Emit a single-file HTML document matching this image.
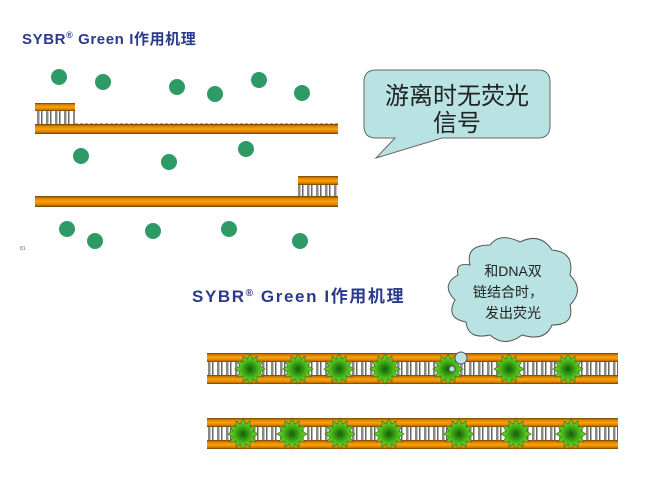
<!DOCTYPE html>
<html><head><meta charset="utf-8"><style>body{margin:0;background:#fff}svg{display:block}</style></head><body>
<svg width="660" height="480" viewBox="0 0 660 480" xmlns="http://www.w3.org/2000/svg">
<defs>
<linearGradient id="og" x1="0" y1="0" x2="0" y2="1">
<stop offset="0" stop-color="#6b3f00"/><stop offset="0.2" stop-color="#d87f00"/><stop offset="0.5" stop-color="#ffa200"/><stop offset="0.8" stop-color="#d87f00"/><stop offset="1" stop-color="#6b3f00"/></linearGradient>
<radialGradient id="sg"><stop offset="0" stop-color="#125e08"/><stop offset="0.6" stop-color="#4cbd1a"/><stop offset="1" stop-color="#7fe020"/></radialGradient>
<pattern id="lad" width="9" height="20" patternUnits="userSpaceOnUse"><rect width="9" height="20" fill="#fff"/><rect x="1" width="2.5" height="20" fill="#888"/><rect x="5" width="1.5" height="20" fill="#666"/></pattern>
<polygon id="star" points="0,-15 3,-10 7,-13 7,-7 13,-8 10,-3 15,0 10,3 13,8 7,7 7,13 3,10 0,15 -3,10 -7,13 -7,7 -13,8 -10,3 -15,0 -10,-3 -13,-8 -7,-7 -7,-13 -3,-10" fill="url(#sg)" stroke="#4a7a20" stroke-width="0.8"/>
</defs>
<text x="22" y="44" font-family="Liberation Sans, Noto Sans CJK SC, sans-serif" font-size="15" font-weight="bold" letter-spacing="0.6" fill="#2b3a8a">SYBR<tspan font-size="9" dy="-6">®</tspan><tspan dy="6"> Green I作用机理</tspan></text>
<text x="20" y="250" font-family="Liberation Sans,sans-serif" font-size="5" fill="#666">81</text>
<rect x="35" y="110" width="40" height="14" fill="url(#lad)"/>
<rect x="35" y="103" width="40" height="8" fill="url(#og)"/>
<line x1="75" y1="124" x2="338" y2="124" stroke="#b03030" stroke-width="1" stroke-dasharray="3,2"/>
<rect x="35" y="124" width="303" height="10" fill="url(#og)"/>
<rect x="298" y="184" width="40" height="13" fill="url(#lad)"/>
<rect x="298" y="176" width="40" height="9" fill="url(#og)"/>
<rect x="35" y="196" width="303" height="11" fill="url(#og)"/>
<g fill="#2e9a66">
<circle cx="59" cy="77" r="8"/><circle cx="103" cy="82" r="8"/><circle cx="177" cy="87" r="8"/><circle cx="215" cy="94" r="8"/><circle cx="259" cy="80" r="8"/><circle cx="302" cy="93" r="8"/>
<circle cx="81" cy="156" r="8"/><circle cx="169" cy="162" r="8"/><circle cx="246" cy="149" r="8"/>
<circle cx="67" cy="229" r="8"/><circle cx="95" cy="241" r="8"/><circle cx="153" cy="231" r="8"/><circle cx="229" cy="229" r="8"/><circle cx="300" cy="241" r="8"/></g>
<path d="M376,70 H538 Q550,70 550,82 V126 Q550,138 538,138 H442 L376,158 L395,138 H376 Q364,138 364,126 V82 Q364,70 376,70 Z" fill="#b9e3e3" stroke="#666" stroke-width="1"/>
<text x="457" y="104" text-anchor="middle" font-family="Noto Sans CJK SC, sans-serif" font-size="24" fill="#222">游离时无荧光</text>
<text x="457" y="131" text-anchor="middle" font-family="Noto Sans CJK SC, sans-serif" font-size="24" fill="#222">信号</text>
<text x="192" y="302" font-family="Liberation Sans, Noto Sans CJK SC, sans-serif" font-size="17" font-weight="bold" letter-spacing="1.6" fill="#2b3a8a">SYBR<tspan font-size="10" dy="-6">®</tspan><tspan dy="6"> Green I作用机理</tspan></text>
<rect x="207" y="361" width="411" height="15" fill="url(#lad)"/>
<rect x="207" y="353" width="411" height="9" fill="url(#og)"/>
<rect x="207" y="375" width="411" height="9" fill="url(#og)"/>
<rect x="207" y="426" width="411" height="15" fill="url(#lad)"/>
<rect x="207" y="418" width="411" height="9" fill="url(#og)"/>
<rect x="207" y="440" width="411" height="9" fill="url(#og)"/>
<use href="#star" x="250" y="369"/><use href="#star" x="298" y="369"/><use href="#star" x="339" y="369"/><use href="#star" x="385" y="369"/><use href="#star" x="448" y="369"/><use href="#star" x="509" y="369"/><use href="#star" x="568" y="369"/>
<use href="#star" x="243" y="434"/><use href="#star" x="292" y="434"/><use href="#star" x="340" y="434"/><use href="#star" x="389" y="434"/><use href="#star" x="459" y="434"/><use href="#star" x="516" y="434"/><use href="#star" x="571" y="434"/>
<g fill="#b9e3e3" stroke="#555" stroke-width="1">
<path d="M470,265 Q465,245 490,245 Q500,232 520,242 Q540,232 552,250 Q575,252 570,275 Q585,290 570,305 Q575,325 552,325 Q545,342 522,335 Q505,348 490,335 Q468,340 466,322 Q445,318 455,300 Q440,285 458,275 Q455,262 470,265 Z"/>
<circle cx="461" cy="358" r="6"/><circle cx="452" cy="369" r="3"/></g>
<g font-family="Liberation Sans, Noto Sans CJK SC, sans-serif" font-size="14" fill="#222" text-anchor="middle">
<text x="513" y="276">和DNA双</text><text x="508" y="297">链结合时，</text><text x="513" y="318">发出荧光</text></g>
</svg>
</body></html>
